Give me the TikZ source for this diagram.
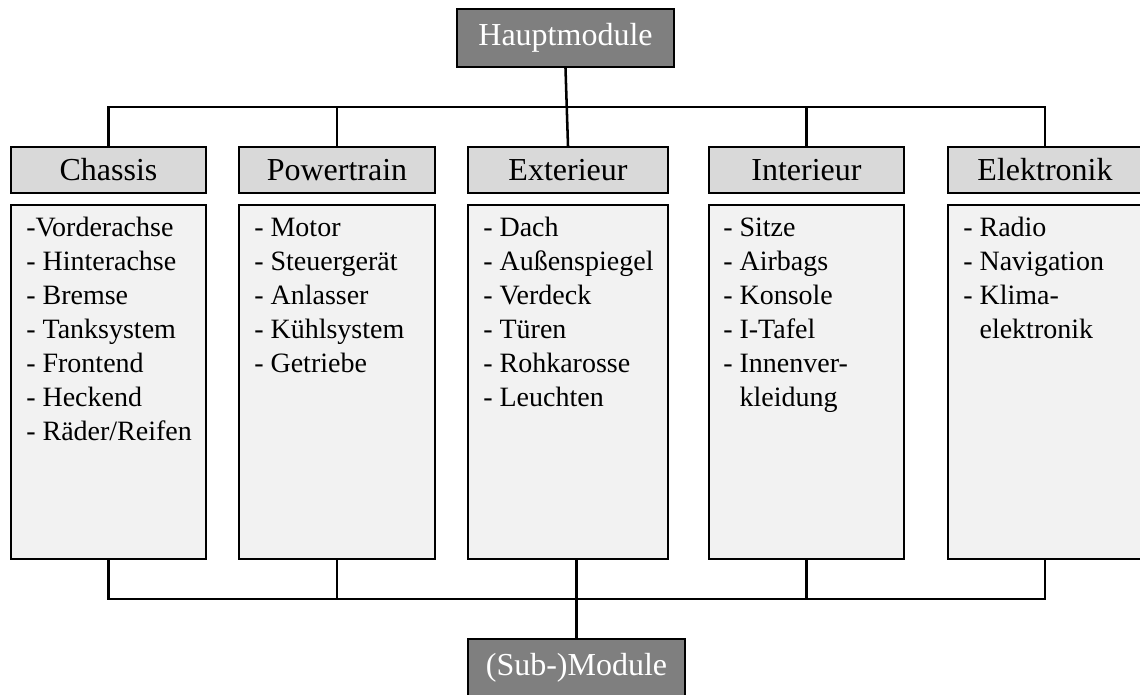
\documentclass[tikz,border=0pt]{standalone}
\usepackage{fontspec}
\setmainfont{Liberation Serif}
\begin{document}
\definecolor{darkbox}{HTML}{7F7F7F}
\definecolor{headbox}{HTML}{D9D9D9}
\definecolor{listbox}{HTML}{F2F2F2}
\begin{tikzpicture}[x=0.75pt,y=-0.75pt,
  mainbox/.style={draw=black,line width=1.9pt,fill=darkbox,text=white,
    minimum width=162.75pt,minimum height=43.5pt,inner sep=0pt,
    font=\fontsize{24}{28}\selectfont},
  headbox/.style={draw=black,line width=1.9pt,fill=headbox,
    minimum height=34.5pt,inner sep=0pt,font=\fontsize{24}{28}\selectfont},
  listbox/.style={draw=black,line width=1.9pt,fill=listbox,
    minimum height=265.5pt,inner sep=0pt},
  listtext/.style={anchor=base west,inner sep=0pt,
    font=\fontsize{21}{25.5}\selectfont},
  wire/.style={line width=1.9pt,line cap=rect}]
\useasboundingbox (0,0) rectangle (1140,695);

% top and bottom boxes
\node[mainbox] (haupt) at (565.5,38) {Hauptmodule};
\node[mainbox] (sub) at (576.5,668) {(Sub-)Module};

% module headers
\node[headbox,minimum width=146.25pt] (hC) at (108.5,170) {Chassis};
\node[headbox,minimum width=147pt]    (hP) at (337,170)   {Powertrain};
\node[headbox,minimum width=150pt]    (hX) at (568,170)   {Exterieur};
\node[headbox,minimum width=146.25pt] (hI) at (806.5,170) {Interieur};
\node[headbox,minimum width=145.5pt]  (hL) at (1045,170)  {Elektronik};

% list boxes
\node[listbox,minimum width=146.25pt] (bC) at (108.5,382) {};
\node[listbox,minimum width=147pt]    (bP) at (337,382)   {};
\node[listbox,minimum width=150pt]    (bX) at (568,382)   {};
\node[listbox,minimum width=146.25pt] (bI) at (806.5,382) {};
\node[listbox,minimum width=145.5pt]  (bL) at (1045,382)  {};

% list contents
\node[listtext] (tC) at (26,237) {\begin{tabular}[t]{@{}l@{}}
-Vorderachse\\- Hinterachse\\- Bremse\\- Tanksystem\\- Frontend\\- Heckend\\- Räder/Reifen\end{tabular}};
\node[listtext] (tP) at (254,237) {\begin{tabular}[t]{@{}l@{}}
- Motor\\- Steuergerät\\- Anlasser\\- Kühlsystem\\- Getriebe\end{tabular}};
\node[listtext] (tX) at (483,237) {\begin{tabular}[t]{@{}l@{}}
- Dach\\- Außenspiegel\\- Verdeck\\- Türen\\- Rohkarosse\\- Leuchten\end{tabular}};
\node[listtext] (tI) at (723,237) {\begin{tabular}[t]{@{}l@{}}
- Sitze\\- Airbags\\- Konsole\\- I-Tafel\\- Innenver-\\\hphantom{- }kleidung\end{tabular}};
\node[listtext] (tL) at (963,237) {\begin{tabular}[t]{@{}l@{}}
- Radio\\- Navigation\\- Klima-\\\hphantom{- }elektronik\end{tabular}};

% upper distribution bus
\coordinate (topbus) at (0,107);
\draw[wire] (hC.north |- topbus) -- (hL.north |- topbus);
\draw[wire] (hC.north) -- (hC.north |- topbus);
\draw[wire] (hP.north) -- (hP.north |- topbus);
\draw[wire] (hI.north) -- (hI.north |- topbus);
\draw[wire] (hL.north) -- (hL.north |- topbus);
\draw[wire] (haupt.south) -- (hX.north);

% lower collection bus
\coordinate (botbus) at (0,599);
\draw[wire] (bC.south |- botbus) -- (bL.south |- botbus);
\draw[wire] (bC.south) -- (bC.south |- botbus);
\draw[wire] (bP.south) -- (bP.south |- botbus);
\draw[wire] (bI.south) -- (bI.south |- botbus);
\draw[wire] (bL.south) -- (bL.south |- botbus);
\draw[wire] (sub.north) -- (sub.north |- bX.south);
\end{tikzpicture}
\end{document}
